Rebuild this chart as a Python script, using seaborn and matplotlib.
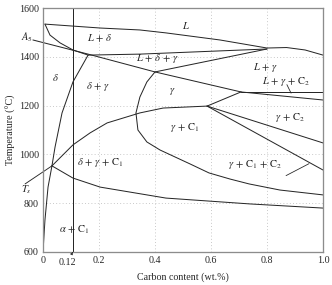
import numpy as np
import matplotlib
matplotlib.use('Agg')
import matplotlib.pyplot as plt
import seaborn as sns

sns.set_style('white')
plt.rcParams['font.family'] = ['Liberation Serif', 'DejaVu Serif']
plt.rcParams['mathtext.fontset'] = 'stix'

# phase boundaries (carbon wt.%, temperature C)
liquidus_c = [0.007, 0.204, 0.346, 0.439, 0.632, 0.800, 0.870, 0.936, 1.0]
liquidus_t = [1534, 1518, 1510, 1498, 1469, 1436, 1438, 1428, 1407]

delta_sol_c = [0.007, 0.025, 0.061, 0.107, 0.161]
delta_sol_t = [1534, 1489, 1457, 1428, 1407]

ldelta_low_c = [0.161, 0.346, 0.800]
ldelta_low_t = [1407, 1411, 1432]

lgamma_top_c = [0.400, 0.800]
lgamma_top_t = [1338, 1432]

a5_c = [-0.036, 0.161, 0.400, 0.707]
a5_t = [1469, 1411, 1338, 1256]

lgc2_up_c = [0.707, 1.0]
lgc2_up_t = [1256, 1256]
lgc2_low_c = [0.707, 1.0]
lgc2_low_t = [1256, 1223]

delta_gamma_c = [0.161, 0.107, 0.068, 0.043, 0.032, 0.018, 0.007, 0.0]
delta_gamma_t = [1407, 1297, 1170, 1030, 953, 866, 731, 600]

gc1_up_c = [0.032, 0.107, 0.168, 0.229, 0.286, 0.346, 0.429, 0.586]
gc1_up_t = [953, 1039, 1088, 1129, 1149, 1170, 1190, 1198]

j3_j2_c = [0.586, 0.707]
j3_j2_t = [1198, 1256]

gc2_a_c = [0.586, 1.0]
gc2_a_t = [1198, 1047]
gc2_b_c = [0.586, 1.0]
gc2_b_t = [1198, 936]

ccurve_c = [0.400, 0.371, 0.346, 0.332, 0.339, 0.371, 0.418, 0.525, 0.593,
            0.668, 0.736, 0.846, 1.0]
ccurve_t = [1338, 1297, 1235, 1170, 1100, 1051, 1018, 961, 924, 899, 879,
            854, 834]

lower_c = [0.032, 0.107, 0.204, 0.439, 0.739, 1.0]
lower_t = [953, 903, 866, 821, 797, 780]

alloy_c = 0.106

boundaries = [
    (liquidus_c, liquidus_t), (delta_sol_c, delta_sol_t),
    (ldelta_low_c, ldelta_low_t), (lgamma_top_c, lgamma_top_t),
    (lgc2_up_c, lgc2_up_t), (lgc2_low_c, lgc2_low_t),
    (delta_gamma_c, delta_gamma_t), (gc1_up_c, gc1_up_t),
    (j3_j2_c, j3_j2_t), (gc2_a_c, gc2_a_t), (gc2_b_c, gc2_b_t),
    (ccurve_c, ccurve_t), (lower_c, lower_t),
]

region_labels = [r'$L$', r'$L\,+\,\delta$', r'$\delta$', r'$L\,+\,\delta\,+\,\gamma$',
                 r'$\delta\,+\,\gamma$', r'$\gamma$', r'$L\,+\,\gamma$',
                 r'$L\,+\,\gamma\,+\,\mathrm{C}_2$', r'$\gamma\,+\,\mathrm{C}_2$',
                 r'$\gamma\,+\,\mathrm{C}_1$', r'$\delta\,+\,\gamma\,+\,\mathrm{C}_1$',
                 r'$\gamma\,+\,\mathrm{C}_1\,+\,\mathrm{C}_2$', r'$\alpha\,+\,\mathrm{C}_1$']
label_c = [0.511, 0.204, 0.043, 0.407, 0.196, 0.461, 0.796, 0.868, 0.882,
           0.507, 0.204, 0.757, 0.111]
label_t = [1530, 1477, 1317, 1395, 1280, 1256, 1358, 1297, 1153, 1112, 965,
           957, 690]

xticks = [0, 0.2, 0.4, 0.6, 0.8, 1.0]
xticklabels = ['0', '0.2', '0.4', '0.6', '0.8', '1.0']
yticks = [600, 800, 1000, 1200, 1400, 1600]

fig = plt.figure(figsize=(332 / 72, 285 / 72), dpi=72)
ax = fig.add_axes([0.1295, 0.1158, 0.8434, 0.8561])

line_col = '#262626'
for c, t in boundaries:
    sns.lineplot(x=c, y=t, sort=False, estimator=None, color=line_col,
                 lw=1.0, ax=ax)
sns.lineplot(x=a5_c, y=a5_t, sort=False, estimator=None, color=line_col,
             lw=1.0, ax=ax, clip_on=False)
ax.plot([alloy_c, alloy_c], [600, 1600], color=line_col, lw=1.0)

# Ts pointer
ax.plot([-0.064, 0.032], [879, 953], color=line_col, lw=0.9, clip_on=False)
# small pointers
ax.plot([0.871, 0.886], [1286, 1251], color=line_col, lw=0.8)
ax.plot([0.868, 0.950], [913, 962], color=line_col, lw=0.8)

fs = 10.5
for s, c, t in zip(region_labels, label_c, label_t):
    ax.text(c, t, s, ha='center', va='center', fontsize=fs)

ax.text(-0.035, 1480, r'$A_5$', ha='right', va='center', fontsize=fs)
ax.text(-0.061, 856, r'$T_s$', ha='center', va='center', fontsize=fs)

ax.annotate('0.12', xy=(alloy_c, 600), xytext=(0.088, 558),
            ha='center', va='center', fontsize=10, annotation_clip=False,
            arrowprops=dict(arrowstyle='-|>', color=line_col, lw=0.7,
                            mutation_scale=5, shrinkA=3, shrinkB=0))

ax.set_xlim(0, 1.0)
ax.set_ylim(600, 1600)
ax.set_xticks(xticks)
ax.set_xticklabels(xticklabels)
ax.set_yticks(yticks)
ax.tick_params(length=0, labelsize=10, pad=4)
ax.grid(True, color='#b0b0b0', ls=(0, (1, 3)), lw=0.8)
ax.set_axisbelow(True)
for sp in ax.spines.values():
    sp.set_color('#8c8c8c')
    sp.set_linewidth(1.3)

ax.set_xlabel('Carbon content (wt.%)', fontsize=10, labelpad=7)
ax.set_ylabel('Temperature (°C)', fontsize=10, labelpad=3)

fig.savefig('out.png', dpi=72)
